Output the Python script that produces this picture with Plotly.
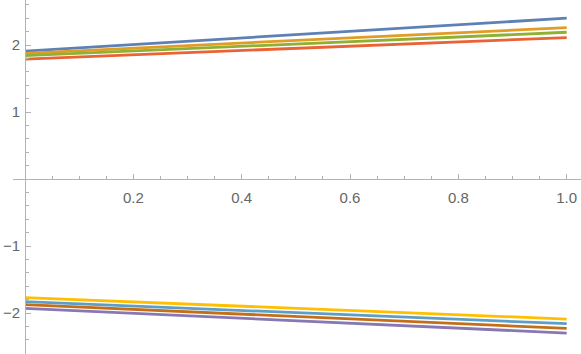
import plotly.graph_objects as go

# Valores
x_vals = [0.0, 0.5, 1.0]

upper_blue = [1.91, 2.155, 2.40]
upper_orange = [1.875, 2.07, 2.26]
upper_green = [1.84, 2.015, 2.19]
upper_red = [1.79, 1.95, 2.11]

lower_purple = [-1.93, -2.115, -2.30]
lower_brown = [-1.875, -2.05, -2.23]
lower_lightblue = [-1.83, -1.995, -2.16]
lower_yellow = [-1.77, -1.93, -2.09]

series = [
    (upper_blue, '#5E81B5'),
    (upper_orange, '#E19C24'),
    (upper_green, '#8FB032'),
    (upper_red, '#EB6235'),
    (lower_purple, '#8778B3'),
    (lower_brown, '#C56E1A'),
    (lower_lightblue, '#5D9EC7'),
    (lower_yellow, '#FFBF00'),
]

x_ticks = [0.2, 0.4, 0.6, 0.8, 1.0]
x_labels = ['0.2', '0.4', '0.6', '0.8', '1.0']
y_ticks = [-2, -1, 1, 2]
y_labels = ['\u22122', '\u22121', '1', '2']

W, H = 581, 354
AXIS = '#b3b3b3'
TEXT = '#666666'

# Rango de ejes (px -> datos)
x0_px, x_scale = 25, 541.7
y0_px, y_scale = 179, 67.0
left_px = 13
x_range = [-(x0_px - left_px) / x_scale, (W - x0_px) / x_scale]
y_range = [-(H - y0_px) / y_scale, y0_px / y_scale]

fig = go.Figure()
for ys, color in series:
    fig.add_trace(go.Scatter(
        x=x_vals, y=ys, mode='lines',
        line=dict(color=color, width=2.8),
        showlegend=False, hoverinfo='skip'
    ))

x_pos = (0 - x_range[0]) / (x_range[1] - x_range[0])
y_pos = (0 - y_range[0]) / (y_range[1] - y_range[0])

fig.update_layout(
    width=W, height=H,
    margin=dict(l=0, r=0, t=0, b=0, autoexpand=False),
    paper_bgcolor='white', plot_bgcolor='white',
    font=dict(family='Liberation Sans', size=15, color=TEXT),
    xaxis=dict(
        domain=[left_px / W, 1], range=x_range,
        anchor='free', position=y_pos, automargin=False,
        showline=True, linecolor=AXIS, linewidth=1,
        showgrid=False, zeroline=False,
        tickmode='array', tickvals=x_ticks, ticktext=x_labels,
        ticks='inside', ticklen=5, tickcolor=AXIS, tickwidth=1,
        ticklabelstandoff=5,
        minor=dict(tickmode='linear', tick0=0, dtick=0.05,
                   ticks='inside', ticklen=3, tickcolor=AXIS, showgrid=False),
        side='bottom',
    ),
    yaxis=dict(
        domain=[0, 1], range=y_range,
        anchor='free', position=x_pos * (1 - left_px / W) + left_px / W,
        automargin=False,
        showline=True, linecolor=AXIS, linewidth=1,
        showgrid=False, zeroline=False,
        tickmode='array', tickvals=y_ticks, ticktext=y_labels,
        ticks='inside', ticklen=5, tickcolor=AXIS, tickwidth=1,
        ticklabelstandoff=2,
        minor=dict(tickmode='linear', tick0=0, dtick=0.2,
                   ticks='inside', ticklen=3, tickcolor=AXIS, showgrid=False),
        side='left',
    ),
)

# quitar el margen por defecto del body
fig.write_html("out.html", config={'displayModeBar': False},
               post_script="document.body.style.margin='0px';")
